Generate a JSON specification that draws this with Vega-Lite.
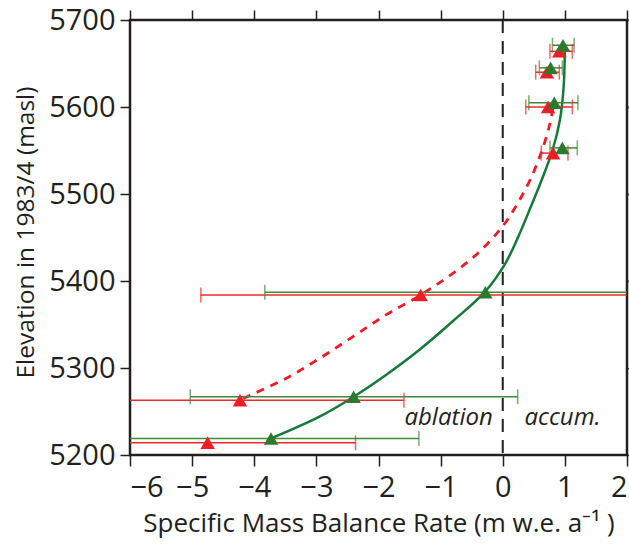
{
  "$schema": "https://vega.github.io/schema/vega-lite/v6.json",
  "width": 497,
  "height": 435,
  "autosize": {"type": "none"},
  "padding": {"left": 130, "top": 20, "right": 2, "bottom": 89},
  "background": "white",
  "config": {
    "font": "Open Sans",
    "view": {"stroke": "#231f20", "strokeWidth": 2.5},
    "axis": {"grid": false, "domain": false, "tickColor": "#231f20", "tickWidth": 1.5, "labelColor": "#231f20", "titleColor": "#231f20", "labelFont": "Open Sans", "titleFont": "Open Sans", "titleFontWeight": "normal"}
  },
  "datasets": {
    "pts": [
      {"series": "red", "bal": 0.91, "lo": 0.76, "hi": 1.12, "elev": 5664},
      {"series": "red", "bal": 0.71, "lo": 0.53, "hi": 0.91, "elev": 5640},
      {"series": "red", "bal": 0.73, "lo": 0.37, "hi": 1.12, "elev": 5600},
      {"series": "red", "bal": 0.81, "lo": 0.62, "hi": 1.05, "elev": 5547},
      {"series": "red", "bal": -1.32, "lo": -4.86, "hi": 2.22, "elev": 5384},
      {"series": "red", "bal": -4.23, "lo": -6.87, "hi": -1.59, "elev": 5263},
      {"series": "red", "bal": -4.75, "lo": -7.13, "hi": -2.37, "elev": 5214},
      {"series": "green", "bal": 0.97, "lo": 0.8, "hi": 1.15, "elev": 5671},
      {"series": "green", "bal": 0.77, "lo": 0.59, "hi": 0.96, "elev": 5645},
      {"series": "green", "bal": 0.83, "lo": 0.42, "hi": 1.21, "elev": 5605},
      {"series": "green", "bal": 0.96, "lo": 0.76, "hi": 1.2, "elev": 5553},
      {"series": "green", "bal": -0.28, "lo": -3.83, "hi": 3.27, "elev": 5387},
      {"series": "green", "bal": -2.4, "lo": -5.03, "hi": 0.24, "elev": 5267},
      {"series": "green", "bal": -3.73, "lo": -6.11, "hi": -1.35, "elev": 5219}
    ],
    "curves": [
      {"series": "green", "bal": -3.73, "elev": 5219},
      {"series": "green", "bal": -2.95, "elev": 5244},
      {"series": "green", "bal": -2.4, "elev": 5267},
      {"series": "green", "bal": -1.88, "elev": 5292},
      {"series": "green", "bal": -1.34, "elev": 5321},
      {"series": "green", "bal": -0.8, "elev": 5354},
      {"series": "green", "bal": -0.28, "elev": 5388},
      {"series": "green", "bal": 0.04, "elev": 5420},
      {"series": "green", "bal": 0.25, "elev": 5451},
      {"series": "green", "bal": 0.45, "elev": 5485},
      {"series": "green", "bal": 0.62, "elev": 5515},
      {"series": "green", "bal": 0.8, "elev": 5550},
      {"series": "green", "bal": 0.92, "elev": 5585},
      {"series": "green", "bal": 0.98, "elev": 5623},
      {"series": "green", "bal": 1.0, "elev": 5669},
      {"series": "red", "bal": -4.18, "elev": 5265},
      {"series": "red", "bal": -3.49, "elev": 5288},
      {"series": "red", "bal": -2.95, "elev": 5311},
      {"series": "red", "bal": -2.41, "elev": 5336},
      {"series": "red", "bal": -1.88, "elev": 5361},
      {"series": "red", "bal": -1.32, "elev": 5384},
      {"series": "red", "bal": -0.82, "elev": 5408},
      {"series": "red", "bal": -0.4, "elev": 5432},
      {"series": "red", "bal": 0.0, "elev": 5463},
      {"series": "red", "bal": 0.27, "elev": 5493},
      {"series": "red", "bal": 0.49, "elev": 5524},
      {"series": "red", "bal": 0.65, "elev": 5554},
      {"series": "red", "bal": 0.76, "elev": 5581},
      {"series": "red", "bal": 0.82, "elev": 5605}
    ],
    "zero": [{"bal": 0}],
    "labels": [
      {"txt": "ablation", "bal": -0.16, "elev": 5234, "side": "right"},
      {"txt": "accum.", "bal": 0.35, "elev": 5234, "side": "left"}
    ]
  },
  "resolve": {"axis": {"x": "independent", "y": "independent"}},
  "layer": [
    {
      "data": {"name": "pts"},
      "mark": {"type": "point", "opacity": 0},
      "encoding": {
        "x": {"field": "bal", "type": "quantitative", "scale": {"domain": [-6, 2], "nice": false, "zero": false},
          "axis": {"orient": "top", "labels": false, "title": null, "values": [-6, -5, -4, -3, -2, -1, 0, 1, 2], "tickSize": 10}},
        "y": {"field": "elev", "type": "quantitative", "scale": {"domain": [5200, 5700], "nice": false, "zero": false},
          "axis": {"orient": "right", "labels": false, "title": null, "values": [5200, 5300, 5400, 5500, 5600, 5700], "tickSize": 8}}
      }
    },
    {
      "data": {"name": "zero"},
      "mark": {"type": "rule", "color": "#231f20", "strokeWidth": 2, "strokeDash": [13, 8]},
      "encoding": {
        "x": {"field": "bal", "type": "quantitative",
          "axis": {"orient": "bottom", "values": [-6, -5, -4, -3, -2, -1, 0, 1, 2], "tickSize": 11, "labelFontSize": 29, "labelPadding": 7,
            "title": "Specific Mass Balance Rate (m w.e. a⁻¹ )", "titleFontSize": 26, "titlePadding": 8}}
      }
    },
    {
      "data": {"name": "curves"},
      "transform": [{"filter": "datum.series === 'green'"}],
      "mark": {"type": "line", "color": "#16793a", "strokeWidth": 2.5, "interpolate": "catmull-rom", "clip": true},
      "encoding": {
        "x": {"field": "bal", "type": "quantitative", "axis": null},
        "y": {"field": "elev", "type": "quantitative",
          "axis": {"orient": "left", "values": [5200, 5300, 5400, 5500, 5600, 5700], "format": "d", "tickSize": 10, "labelFontSize": 29, "labelPadding": 5,
            "title": "Elevation in 1983/4 (masl)", "titleFontSize": 24.5, "titlePadding": 10, "titleY": 212}},
        "order": {"field": "elev", "type": "quantitative"}
      }
    },
    {
      "data": {"name": "curves"},
      "transform": [{"filter": "datum.series === 'red'"}],
      "mark": {"type": "line", "color": "#ee1c25", "strokeWidth": 2.8, "strokeDash": [8, 7], "interpolate": "catmull-rom", "clip": true},
      "encoding": {
        "x": {"field": "bal", "type": "quantitative", "axis": null},
        "y": {"field": "elev", "type": "quantitative", "axis": null},
        "order": {"field": "elev", "type": "quantitative"}
      }
    },
    {
      "data": {"name": "pts"},
      "mark": {"type": "rule", "strokeWidth": 1.5, "clip": true},
      "encoding": {
        "x": {"field": "lo", "type": "quantitative", "axis": null},
        "x2": {"field": "hi"},
        "y": {"field": "elev", "type": "quantitative", "axis": null},
        "color": {"field": "series", "type": "nominal", "scale": {"domain": ["red", "green"], "range": ["#f0282d", "#3f8a3c"]}, "legend": null}
      }
    },
    {
      "data": {"name": "pts"},
      "mark": {"type": "tick", "orient": "vertical", "size": 15, "thickness": 1.5, "clip": true},
      "encoding": {
        "x": {"field": "lo", "type": "quantitative", "axis": null},
        "y": {"field": "elev", "type": "quantitative", "axis": null},
        "color": {"field": "series", "type": "nominal", "legend": null}
      }
    },
    {
      "data": {"name": "pts"},
      "mark": {"type": "tick", "orient": "vertical", "size": 15, "thickness": 1.5, "clip": true},
      "encoding": {
        "x": {"field": "hi", "type": "quantitative", "axis": null},
        "y": {"field": "elev", "type": "quantitative", "axis": null},
        "color": {"field": "series", "type": "nominal", "legend": null}
      }
    },
    {
      "data": {"name": "pts"},
      "mark": {"type": "point", "shape": "triangle-up", "filled": true, "size": 210, "opacity": 1},
      "encoding": {
        "x": {"field": "bal", "type": "quantitative", "axis": null},
        "y": {"field": "elev", "type": "quantitative", "axis": null},
        "fill": {"field": "series", "type": "nominal", "scale": {"domain": ["red", "green"], "range": ["#ee1c25", "#2b7a2e"]}, "legend": null}
      }
    },
    {
      "data": {"name": "labels"},
      "transform": [{"filter": "datum.side === 'right'"}],
      "mark": {"type": "text", "align": "right", "baseline": "alphabetic", "fontStyle": "italic", "fontSize": 24, "color": "#231f20"},
      "encoding": {
        "x": {"field": "bal", "type": "quantitative", "axis": null},
        "y": {"field": "elev", "type": "quantitative", "axis": null},
        "text": {"field": "txt"}
      }
    },
    {
      "data": {"name": "labels"},
      "transform": [{"filter": "datum.side === 'left'"}],
      "mark": {"type": "text", "align": "left", "baseline": "alphabetic", "fontStyle": "italic", "fontSize": 24, "color": "#231f20"},
      "encoding": {
        "x": {"field": "bal", "type": "quantitative", "axis": null},
        "y": {"field": "elev", "type": "quantitative", "axis": null},
        "text": {"field": "txt"}
      }
    }
  ]
}
